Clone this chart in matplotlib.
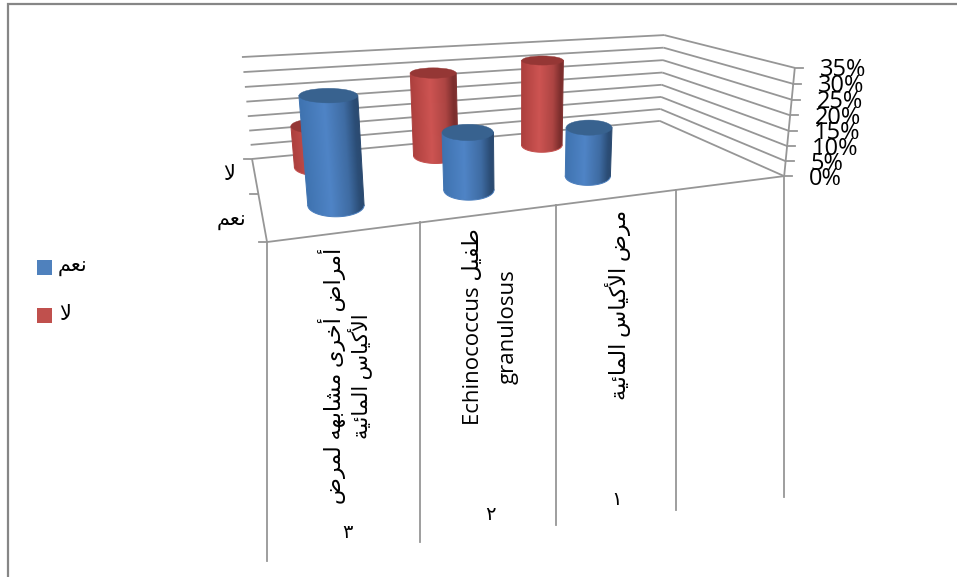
import numpy as np
import matplotlib
matplotlib.use('Agg')
import matplotlib.pyplot as plt
from matplotlib.colors import LinearSegmentedColormap
from matplotlib.patches import Ellipse, Polygon, Rectangle

plt.rcParams['font.family'] = ['Open Sans', 'DejaVu Sans']

# Values, percent
categories = ['1', '2', '3', '4']
yes_values = [32, 18, 16]
no_values = [14, 29, 31]
z_ticks = [0, 5, 10, 15, 20, 25, 30, 35]
grey = '#969696'

# Arabic letters as (isolated, final, initial, medial) presentation forms
forms = {
    'أ': (0xFE83, 0xFE84), 'ا': (0xFE8D, 0xFE8E), 'ر': (0xFEAD, 0xFEAE),
    'ى': (0xFEEF, 0xFEF0), 'ة': (0xFE93, 0xFE94),
    'م': (0xFEE1, 0xFEE2, 0xFEE3, 0xFEE4), 'ض': (0xFEBD, 0xFEBE, 0xFEBF, 0xFEC0),
    'خ': (0xFEA5, 0xFEA6, 0xFEA7, 0xFEA8), 'ش': (0xFEB5, 0xFEB6, 0xFEB7, 0xFEB8),
    'ب': (0xFE8F, 0xFE90, 0xFE91, 0xFE92), 'ه': (0xFEE9, 0xFEEA, 0xFEEB, 0xFEEC),
    'ل': (0xFEDD, 0xFEDE, 0xFEDF, 0xFEE0), 'ك': (0xFED9, 0xFEDA, 0xFEDB, 0xFEDC),
    'ي': (0xFEF1, 0xFEF2, 0xFEF3, 0xFEF4), 'س': (0xFEB1, 0xFEB2, 0xFEB3, 0xFEB4),
    'ئ': (0xFE89, 0xFE8A, 0xFE8B, 0xFE8C), 'ط': (0xFEC1, 0xFEC2, 0xFEC3, 0xFEC4),
    'ف': (0xFED1, 0xFED2, 0xFED3, 0xFED4), 'ن': (0xFEE5, 0xFEE6, 0xFEE7, 0xFEE8),
    'ع': (0xFEC9, 0xFECA, 0xFECB, 0xFECC),
}
lam_alef = {'ا': (0xFEFB, 0xFEFC), 'أ': (0xFEF7, 0xFEF8)}


def shape_word(word):
    # matplotlib does no shaping, so join the letters and reverse them here
    out = []
    joined = False
    i = 0
    while i < len(word):
        c = word[i]
        if c == 'ل' and i + 1 < len(word) and word[i + 1] in lam_alef:
            out.append(chr(lam_alef[word[i + 1]][1 if joined else 0]))
            joined = False
            i += 2
            continue
        f = forms[c]
        joins_next = len(f) == 4 and i + 1 < len(word)
        if len(f) == 2:
            out.append(chr(f[1 if joined else 0]))
        elif joins_next:
            out.append(chr(f[3 if joined else 2]))
        else:
            out.append(chr(f[1 if joined else 0]))
        joined = joins_next
        i += 1
    return ''.join(reversed(out))


def ar(text):
    return ' '.join(shape_word(w) for w in reversed(text.split(' ')))


# Projection of (category, series, value) on the page, fitted on the box corners
box_3d = [(0, 0, 0), (4, 0, 0), (4, 2, 0), (0, 2, 0), (0, 2, 35), (4, 2, 35), (4, 0, 35)]
box_px = [(267, 242), (784, 176), (660, 121), (252, 159), (242, 57), (664, 35), (795, 68)]
rows, rhs = [], []
for (a, b, c), (px, py) in zip(box_3d, box_px):
    rows.append([a, b, c, 1, 0, 0, 0, 0, -px * a, -px * b, -px * c])
    rows.append([0, 0, 0, 0, a, b, c, 1, -py * a, -py * b, -py * c])
    rhs += [px, py]
coef = np.linalg.lstsq(np.array(rows, float), np.array(rhs, float), rcond=None)[0]


def project(u, v, z):
    w = coef[8] * u + coef[9] * v + coef[10] * z + 1
    return (coef[0] * u + coef[1] * v + coef[2] * z + coef[3]) / w, \
           (coef[4] * u + coef[5] * v + coef[6] * z + coef[7]) / w


def line3d(ax, a, b):
    x0, y0 = project(*a)
    x1, y1 = project(*b)
    ax.plot([x0, x1], [y0, y1], color=grey, lw=1.3, solid_capstyle='butt')


blue_map = LinearSegmentedColormap.from_list('b', [(0, '#3f73b0'), (.42, '#4f84c6'), (.75, '#3f6ca3'), (.93, '#2b4d76'), (1, '#2b4a70')])
red_map = LinearSegmentedColormap.from_list('r', [(0, '#ad403e'), (.42, '#cd5452'), (.75, '#ad4543'), (.93, '#7c2e2d'), (1, '#803130')])


def ring(cat, ser, z, r_u, r_v):
    # level ellipse on the page: centre and half axes from the projected radius
    cu, cv = cat + 0.51, ser + 0.55
    cx, cy = project(cu, cv, z)
    hw = abs(project(cu + r_u, cv, z)[0] - project(cu - r_u, cv, z)[0]) / 2
    hh = abs(project(cu, cv + r_v, z)[1] - project(cu, cv - r_v, z)[1]) / 2
    return cx, cy, hw, hh


def cylinder(ax, cat, ser, value, cmap, top_color, r_u=0.2, r_v=0.26):
    t = np.linspace(np.pi, 0, 61)
    bx, by, bw, bh = ring(cat, ser, 0, r_u, r_v)
    tx, ty, tw, th = ring(cat, ser, value, r_u, r_v)
    arc = np.column_stack([bx + bw * np.cos(t), by + bh * np.sin(t)])
    body = np.vstack([[(tx - tw, ty)], arc, [(tx + tw, ty)]])

    # Gradient across the body, following the slant of the cylinder axis
    xs = np.arange(min(tx - tw, bx - bw) - 2, max(tx + tw, bx + bw) + 2, 0.25)
    ys = np.arange(ty - 1, by + bh + 2, 0.25)
    grid_x, grid_y = np.meshgrid(xs, ys)
    s = np.clip((grid_y - ty) / (by - ty), 0, 1)
    left = (tx - tw) + s * ((bx - bw) - (tx - tw))
    right = (tx + tw) + s * ((bx + bw) - (tx + tw))
    frac = np.clip((grid_x - left) / (right - left), 0, 1)
    image = ax.imshow(cmap(frac), extent=(xs[0], xs[-1], ys[-1], ys[0]), aspect='auto', zorder=3,
                      interpolation='bilinear')
    clip = Polygon(body, closed=True, fc='none', ec='none', transform=ax.transData)
    ax.add_patch(clip)
    image.set_clip_path(clip)
    # soft outline hides the hard edge of the clip
    ax.plot(arc[:, 0], arc[:, 1], color=cmap(0.5), lw=0.7, zorder=3)
    ax.plot([tx - tw, bx - bw], [ty, by], color=cmap(0.0), lw=0.7, zorder=3)
    ax.plot([tx + tw, bx + bw], [ty, by], color=cmap(1.0), lw=0.7, zorder=3)
    ax.add_patch(Ellipse((tx, ty), 2 * tw, 2 * th, fc=top_color, ec=top_color, lw=0.3, zorder=3))


fig = plt.figure(figsize=(9.57, 5.77), dpi=100)
ax = fig.add_axes([0, 0, 1, 1])
ax.axis('off')

# Chart frame
ax.plot([7.5, 7.5, 957], [577, 3.5, 3.5], color='#868686', lw=1.6, solid_joinstyle='miter')

# Walls and floor
for z in z_ticks:
    line3d(ax, (0, 2, z), (4, 2, z))
    line3d(ax, (4, 2, z), (4, 0, z))
    x, y = project(4, 0, z)
    ax.plot([x, x + 8], [y, y], color=grey, lw=1.3)
    ax.text(x + 25, y + 2.5, '%d%%' % z, fontsize=17, va='center', ha='left', color='black', zorder=5)
line3d(ax, (0, 0, 0), (4, 0, 0))
line3d(ax, (0, 0, 0), (0, 2, 0))
line3d(ax, (4, 0, 0), (4, 0, 35))
for v in [0, 1, 2]:
    x, y = project(0, v, 0)
    ax.plot([x - 8, x], [y, y], color=grey, lw=1.3)

# Long category dividers below the floor
bottoms = [561, 542, 525, 510, 497]
for c, yend in enumerate(bottoms):
    x, y = project(c, 0, 0)
    ax.plot([x, x], [y, yend], color=grey, lw=1.3)

# Cylinders, back series first
for c, val in enumerate(no_values):
    cylinder(ax, c, 1, val, red_map, '#953735')
for c, val in enumerate(yes_values):
    cylinder(ax, c, 0, val, blue_map, '#38628f')

# Category labels
label_kw = dict(rotation=90, ha='center', va='center', color='black', zorder=5)
ax.text(332, 376, ar('أمراض أخرى مشابهه لمرض'), fontsize=16, **label_kw)
ax.text(360, 376, ar('الأكياس المائية'), fontsize=15, **label_kw)
ax.text(473, 327, 'Echinococcus ' + ar('طفيل'), fontsize=16, **label_kw)
ax.text(508, 327, 'granulosus', fontsize=16, **label_kw)
ax.text(618, 305, ar('مرض الأكياس المائية'), fontsize=16, **label_kw)
ax.text(347, 533, '\u0663', fontsize=14, ha='center', va='center')
ax.text(490, 515, '\u0662', fontsize=14, ha='center', va='center')
ax.text(617, 500, '\u0661', fontsize=14, ha='center', va='center')

# Depth labels
ax.text(231, 220, ar('نعم'), fontsize=15, ha='center', va='center')
ax.text(229, 174, ar('لا'), fontsize=15, ha='center', va='center')

# Legend
ax.add_patch(Rectangle((37, 260), 15, 15, fc='#4f81bd', ec='none'))
ax.add_patch(Rectangle((37, 308), 15, 15, fc='#c0504d', ec='none'))
ax.text(58, 266, ar('نعم'), fontsize=15, ha='left', va='center')
ax.text(59, 314, ar('لا'), fontsize=15, ha='left', va='center')

ax.set_xlim(0, 957)
ax.set_ylim(577, 0)
fig.savefig('out.png', dpi=100)
